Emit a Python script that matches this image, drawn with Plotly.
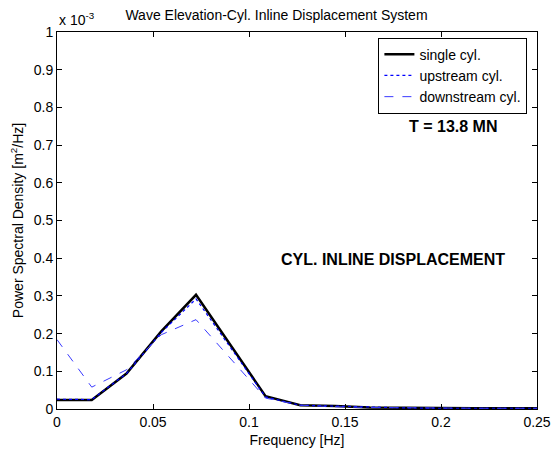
import plotly.graph_objects as go

# Frequencies [Hz]
freq = [0, 0.0181, 0.0362, 0.0543, 0.0724, 0.0905, 0.1086, 0.1267, 0.1448,
        0.1629, 0.181, 0.1991, 0.2172, 0.2353, 0.2534]
# PSD values in units of 1e-3 m^2/Hz
single_cyl = [0.024, 0.024, 0.094, 0.206, 0.303, 0.168, 0.034, 0.010, 0.008,
              0.004, 0.003, 0.002, 0.002, 0.002, 0.002]
upstream_cyl = [0.026, 0.025, 0.094, 0.203, 0.292, 0.163, 0.032, 0.010, 0.007,
                0.004, 0.003, 0.002, 0.002, 0.002, 0.002]
downstream_cyl = [0.184, 0.058, 0.104, 0.197, 0.237, 0.133, 0.029, 0.010, 0.006,
                  0.004, 0.003, 0.002, 0.002, 0.002, 0.002]

x_ticks = [0, 0.05, 0.1, 0.15, 0.2, 0.25]
x_tick_labels = ["0", "0.05", "0.1", "0.15", "0.2", "0.25"]
y_ticks = [0, 0.1, 0.2, 0.3, 0.4, 0.5, 0.6, 0.7, 0.8, 0.9, 1.0]
y_tick_labels = ["0", "0.1", "0.2", "0.3", "0.4", "0.5", "0.6", "0.7", "0.8", "0.9", "1"]

FONT = "Liberation Sans, Arial, sans-serif"
FS = 14

fig = go.Figure()
fig.add_trace(go.Scatter(x=freq, y=single_cyl, mode="lines", name="single cyl.",
                         line=dict(color="black", width=2.5)))
fig.add_trace(go.Scatter(x=freq, y=upstream_cyl, mode="lines", name="upstream cyl.",
                         line=dict(color="#0000ff", width=1.2, dash="dot")))
fig.add_trace(go.Scatter(x=freq, y=downstream_cyl, mode="lines", name="downstream cyl.",
                         line=dict(color="#3a3aff", width=1, dash="dash")))

axis_common = dict(showline=True, linecolor="black", linewidth=1, mirror="ticks",
                   ticks="inside", ticklen=5, tickcolor="black", showgrid=False,
                   zeroline=False, automargin=False,
                   tickfont=dict(family=FONT, size=FS, color="black"))

fig.update_xaxes(range=[0, 0.25], tickvals=x_ticks, ticktext=x_tick_labels,
                 title=dict(text="Frequency [Hz]", font=dict(family=FONT, size=FS, color="black"),
                            standoff=6),
                 **axis_common)
fig.update_yaxes(range=[0, 1.0], tickvals=y_ticks, ticktext=y_tick_labels,
                 title=dict(text="Power Spectral Density [m<sup>2</sup>/Hz]",
                            font=dict(family=FONT, size=FS, color="black"), standoff=6),
                 **axis_common)

fig.update_layout(
    width=553, height=454,
    margin=dict(l=57, r=16, t=32, b=45),
    paper_bgcolor="white", plot_bgcolor="white",
    title=dict(text="Wave Elevation-Cyl. Inline Displacement System",
               font=dict(family=FONT, size=FS, color="black"),
               x=0.5, xanchor="center", y=0.967, yanchor="middle"),
    showlegend=True,
    legend=dict(x=0.98, xanchor="right", y=0.985, yanchor="top",
                bordercolor="black", borderwidth=1, bgcolor="white",
                font=dict(family=FONT, size=FS, color="black"),
                tracegroupgap=0, itemwidth=30),
    annotations=[
        dict(text="x 10<sup>-3</sup>", xref="paper", yref="paper", x=0.0, y=1.0,
             xanchor="left", yanchor="bottom", showarrow=False, yshift=2,
             font=dict(family=FONT, size=FS, color="black")),
        dict(text="<b>T = 13.8 MN</b>", xref="x", yref="y", x=0.2065, y=0.75,
             xanchor="center", yanchor="middle", showarrow=False,
             font=dict(family=FONT, size=16, color="black")),
        dict(text="<b>CYL. INLINE DISPLACEMENT</b>", xref="x", yref="y", x=0.175, y=0.396,
             xanchor="center", yanchor="middle", showarrow=False,
             font=dict(family=FONT, size=16, color="black")),
    ],
)

fig.write_html("out.html")
